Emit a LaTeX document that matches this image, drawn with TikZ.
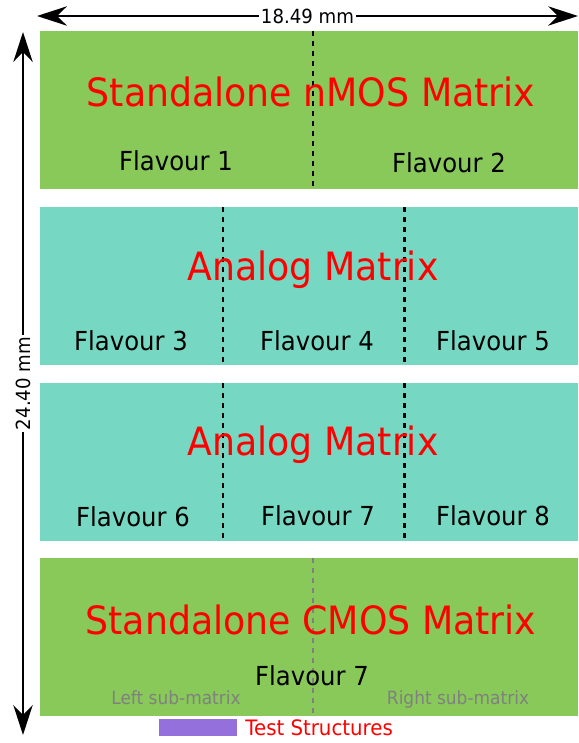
\documentclass[tikz,border=0pt]{standalone}
\usepackage{fontspec}
\setmainfont[FakeStretch=0.93]{DejaVu Sans}
\usetikzlibrary{arrows.meta}

\definecolor{nmosgreen}{RGB}{136,201,90}
\definecolor{analogteal}{RGB}{118,216,194}
\definecolor{testpurple}{RGB}{147,112,219}
\definecolor{subgray}{RGB}{128,128,128}

\tikzset{
  title/.style={text=red, font=\fontsize{22.2}{26}\selectfont, anchor=base, inner sep=0pt},
  flavour/.style={font=\fontsize{14.9}{17}\selectfont, anchor=base, inner sep=0pt},
  submatrix/.style={text=subgray, font=\fontsize{10.4}{12}\selectfont, anchor=base, inner sep=0pt},
  divider/.style={line width=1.7pt, dash pattern=on 3pt off 2.7pt},
  dimtip/.tip={Stealth[length=17pt, width=11pt, inset=5.5pt]},
  dimension/.style={line width=1.2pt, dimtip-dimtip},
  dimlabel/.style={fill=white, inner sep=1pt, font=\fontsize{11.1}{13}\selectfont},
}

\begin{document}
\begin{tikzpicture}[x=0.02cm, y=-0.02cm]
    \useasboundingbox (0,0) rectangle (578,743);
    \begin{scope}
      \fill[nmosgreen] (40,31) rectangle (578,189) ;
      \fill[analogteal] (40,207) rectangle (578,365) ;
      \fill[analogteal] (40,383) rectangle (578,541) ;
      \fill[nmosgreen] (40,558) rectangle (578,716) ;
      \fill[testpurple] (159,719) rectangle (237,736) ;
    \end{scope}
    % dividers between flavours
    \draw[divider] (313,31) -- (313,189) ;
    \draw[divider] (223,207) -- (223,365) ;
    \draw[divider] (404,207) -- (404,365) ;
    \draw[divider] (223,383) -- (223,541) ;
    \draw[divider] (404,383) -- (404,541) ;
    \draw[divider, subgray] (313,558) -- (313,716) ;
    % nMOS matrix
    \node[title] (nmostitle) at (311,107) {Standalone nMOS Matrix} ;
    \node[flavour] (flavourA) at (176,171) {Flavour 1} ;
    \node[flavour] (flavourB) at (449,173) {Flavour 2} ;
    % analog matrices
    \node[title] (analogtitleA) at (313,280) {Analog Matrix} ;
    \node[flavour] (flavourC) at (131,350) {Flavour 3} ;
    \node[flavour] (flavourD) at (317,350) {Flavour 4} ;
    \node[flavour] (flavourE) at (493,350) {Flavour 5} ;
    \node[title] (analogtitleB) at (313,455) {Analog Matrix} ;
    \node[flavour] (flavourF) at (133,526) {Flavour 6} ;
    \node[flavour] (flavourG) at (318,525) {Flavour 7} ;
    \node[flavour] (flavourH) at (493,525) {Flavour 8} ;
    % CMOS matrix
    \node[title] (cmostitle) at (311,634) {Standalone CMOS Matrix} ;
    \node[flavour] (flavourI) at (312,685) {Flavour 7} ;
    \node[submatrix] (leftsub) at (176,704) {Left sub-matrix} ;
    \node[submatrix] (rightsub) at (458,704) {Right sub-matrix} ;
    \node[text=red, font=\fontsize{12.1}{14}\selectfont, anchor=base west, inner sep=0pt] (testlabel) at (245,735) {Test Structures} ;
    % dimensions
    \coordinate (widthL) at (37,16) ;
    \coordinate (widthR) at (578,16) ;
    \coordinate (heightT) at (23,32) ;
    \coordinate (heightB) at (23,735) ;
    \draw[dimension] (widthL) -- node[dimlabel] (widthlabel) {18.49 mm} (widthR) ;
    \draw[dimension] (heightT) -- node[dimlabel, rotate=90] (heightlabel) {24.40 mm} (heightB) ;
\end{tikzpicture}
\end{document}
